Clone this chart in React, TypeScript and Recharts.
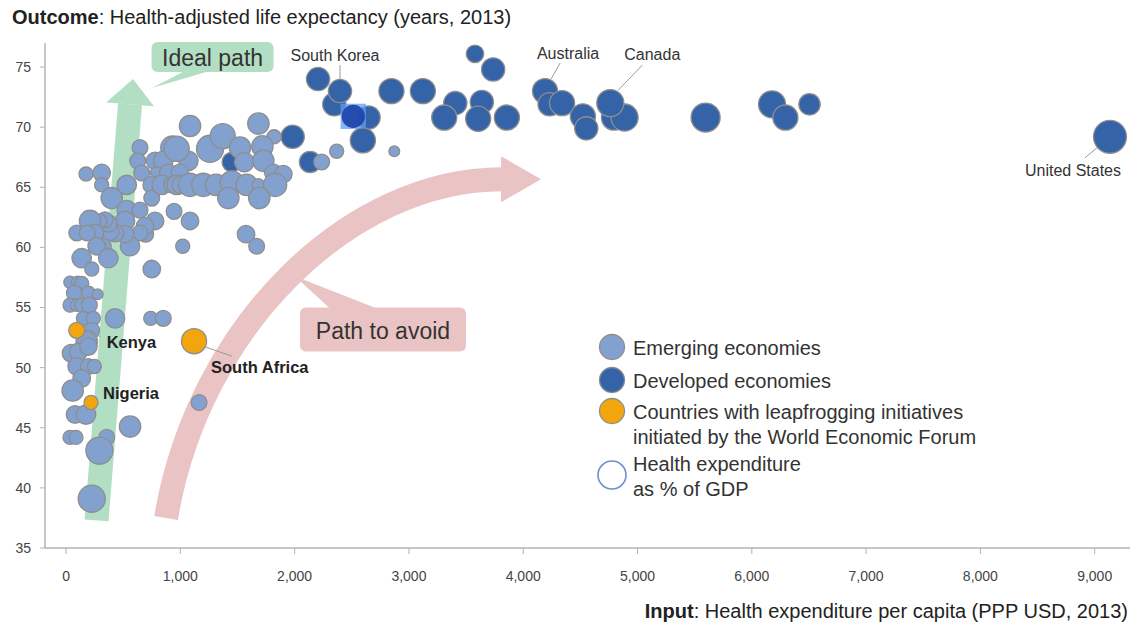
import React from 'react';
import { ScatterChart, Scatter, XAxis, YAxis, ZAxis } from 'recharts';

type Pt = { x: number; y: number; z: number; name?: string; selected?: boolean };

const W = 1134;
const H = 624;
const FONT = '"Liberation Sans", Arial, Helvetica, sans-serif';

const EMERGING = '#82a1cf';
const DEVELOPED = '#3563a8';
const LEAP = '#f2a50c';
const EDGE = '#8e8e8e';
const GREEN = '#b2dfc4';
const PINK = '#eac4c4';

// x: health expenditure per capita (PPP USD), y: healthy life expectancy, z: health expenditure % of GDP
const xTicks = [0, 1000, 2000, 3000, 4000, 5000, 6000, 7000, 8000, 9000];
const yTicks = [35, 40, 45, 50, 55, 60, 65, 70, 75];

const emerging: Pt[] = [
  { x: 1085, y: 70.1, z: 6.3 }, { x: 1683, y: 70.3, z: 6.3 }, { x: 1820, y: 69.2, z: 2.3 },
  { x: 647, y: 68.3, z: 3.1 }, { x: 627, y: 67.2, z: 3.1 }, { x: 930, y: 68.3, z: 7.6 },
  { x: 779, y: 67.2, z: 4.0 }, { x: 851, y: 67.2, z: 5.1 }, { x: 1070, y: 67.2, z: 5.1 },
  { x: 968, y: 68.2, z: 9.0 }, { x: 1260, y: 68.2, z: 10.6 }, { x: 1371, y: 69.25, z: 9.0 },
  { x: 1522, y: 68.3, z: 6.3 }, { x: 1560, y: 67.1, z: 5.1 }, { x: 1718, y: 68.4, z: 6.3 },
  { x: 1726, y: 67.2, z: 6.3 }, { x: 1814, y: 66.2, z: 4.0 }, { x: 1901, y: 66.1, z: 4.0 },
  { x: 175, y: 66.1, z: 2.3 }, { x: 312, y: 66.2, z: 4.0 }, { x: 312, y: 65.2, z: 2.3 },
  { x: 400, y: 64.1, z: 6.3 }, { x: 531, y: 65.2, z: 5.1 }, { x: 662, y: 66.2, z: 3.1 },
  { x: 793, y: 66.2, z: 1.6 }, { x: 750, y: 65.2, z: 4.0 }, { x: 750, y: 64.1, z: 3.1 },
  { x: 895, y: 66.2, z: 4.0 }, { x: 997, y: 66.2, z: 4.0 }, { x: 939, y: 65.2, z: 2.3 },
  { x: 837, y: 65.2, z: 5.1 }, { x: 924, y: 65.2, z: 3.1 }, { x: 968, y: 65.2, z: 5.1 },
  { x: 1005, y: 65.2, z: 4.0 }, { x: 1085, y: 65.2, z: 7.6 }, { x: 1201, y: 65.2, z: 7.6 },
  { x: 1312, y: 65.2, z: 6.3 }, { x: 1450, y: 65.4, z: 7.6 }, { x: 1580, y: 65.2, z: 6.3 },
  { x: 1683, y: 65.2, z: 1.6 }, { x: 1829, y: 65.2, z: 7.6 }, { x: 1420, y: 64.1, z: 6.3 },
  { x: 1691, y: 64.1, z: 6.3 }, { x: 945, y: 63.0, z: 3.1 }, { x: 1085, y: 62.2, z: 4.0 },
  { x: 1575, y: 61.1, z: 4.0 }, { x: 1668, y: 60.1, z: 3.1 }, { x: 1021, y: 60.1, z: 2.3 },
  { x: 750, y: 58.2, z: 4.0 }, { x: 531, y: 63.1, z: 5.1 }, { x: 647, y: 63.1, z: 3.1 },
  { x: 779, y: 62.2, z: 4.0 }, { x: 697, y: 61.1, z: 3.1 }, { x: 691, y: 61.75, z: 4.0 },
  { x: 647, y: 61.2, z: 3.1 }, { x: 560, y: 60.1, z: 5.1 }, { x: 516, y: 62.2, z: 5.1 },
  { x: 516, y: 61.1, z: 4.0 }, { x: 429, y: 61.2, z: 4.0 }, { x: 385, y: 61.3, z: 4.0 },
  { x: 370, y: 62.0, z: 4.0 }, { x: 341, y: 62.3, z: 3.1 }, { x: 297, y: 62.2, z: 2.3 },
  { x: 210, y: 62.2, z: 6.3 }, { x: 254, y: 61.2, z: 4.0 }, { x: 94, y: 61.2, z: 3.1 },
  { x: 186, y: 61.2, z: 3.1 }, { x: 326, y: 60.1, z: 3.1 }, { x: 268, y: 60.1, z: 4.0 },
  { x: 370, y: 59.1, z: 5.1 }, { x: 137, y: 59.1, z: 5.1 }, { x: 225, y: 58.2, z: 2.3 },
  { x: 2237, y: 67.1, z: 3.1 }, { x: 2368, y: 68.0, z: 2.3 }, { x: 2872, y: 68.0, z: 1.0 },
  { x: 35, y: 57.1, z: 1.6 }, { x: 102, y: 57.1, z: 1.6 }, { x: 137, y: 57.0, z: 2.3 },
  { x: 73, y: 56.2, z: 3.1 }, { x: 195, y: 56.2, z: 2.3 }, { x: 277, y: 56.1, z: 1.0 },
  { x: 35, y: 55.2, z: 2.3 }, { x: 93, y: 55.2, z: 1.6 }, { x: 137, y: 55.2, z: 2.3 },
  { x: 204, y: 55.2, z: 3.1 }, { x: 152, y: 54.1, z: 2.3 }, { x: 239, y: 54.1, z: 2.3 },
  { x: 429, y: 54.1, z: 5.1 }, { x: 741, y: 54.1, z: 2.3 }, { x: 851, y: 54.1, z: 3.1 },
  { x: 225, y: 53.1, z: 3.1 }, { x: 181, y: 52.2, z: 6.3 }, { x: 44, y: 51.2, z: 4.0 },
  { x: 108, y: 51.3, z: 4.0 }, { x: 195, y: 51.75, z: 4.0 }, { x: 93, y: 50.1, z: 4.0 },
  { x: 195, y: 50.1, z: 3.1 }, { x: 248, y: 50.1, z: 2.3 }, { x: 137, y: 49.1, z: 4.0 },
  { x: 58, y: 48.1, z: 6.3 }, { x: 79, y: 46.1, z: 4.0 }, { x: 175, y: 46.1, z: 5.1 },
  { x: 35, y: 44.2, z: 2.3 }, { x: 87, y: 44.2, z: 2.3 }, { x: 356, y: 44.2, z: 3.1 },
  { x: 292, y: 43.1, z: 10.6 }, { x: 560, y: 45.1, z: 6.3 }, { x: 1164, y: 47.1, z: 3.1 },
  { x: 225, y: 39.1, z: 10.6 },
];

const developed: Pt[] = [
  { x: 1450, y: 67.1, z: 5.1 }, { x: 1983, y: 69.2, z: 7.6 }, { x: 2135, y: 67.1, z: 6.3 },
  { x: 2205, y: 74.0, z: 7.6 }, { x: 2347, y: 71.9, z: 7.6 },
  { x: 2397, y: 73.0, z: 7.6, name: 'South Korea' },
  { x: 2647, y: 70.8, z: 7.6 }, { x: 2513, y: 70.9, z: 7.6, selected: true },
  { x: 2597, y: 68.9, z: 9.0 }, { x: 2847, y: 73.0, z: 9.0 }, { x: 3122, y: 73.0, z: 9.0 },
  { x: 3406, y: 72.0, z: 7.6 }, { x: 3309, y: 70.8, z: 9.0 }, { x: 3638, y: 72.1, z: 7.6 },
  { x: 3606, y: 70.7, z: 9.0 }, { x: 3857, y: 70.8, z: 9.0 }, { x: 3737, y: 74.8, z: 7.6 },
  { x: 3578, y: 76.1, z: 4.0 },
  { x: 4191, y: 73.0, z: 9.0, name: 'Australia' },
  { x: 4231, y: 71.9, z: 7.6 }, { x: 4340, y: 72.0, z: 9.0 }, { x: 4522, y: 70.9, z: 9.0 },
  { x: 4552, y: 69.9, z: 7.6 },
  { x: 4794, y: 70.8, z: 9.0 }, { x: 4887, y: 70.8, z: 10.6 },
  { x: 4762, y: 72.0, z: 10.6, name: 'Canada' },
  { x: 5596, y: 70.8, z: 12.3 }, { x: 6177, y: 71.9, z: 10.6 }, { x: 6294, y: 70.8, z: 9.0 },
  { x: 6505, y: 71.9, z: 6.3 },
  { x: 9134, y: 69.2, z: 16.1, name: 'United States' },
];

const leapfrog: Pt[] = [
  { x: 93, y: 53.1, z: 3.1, name: 'Kenya' },
  { x: 219, y: 47.1, z: 2.3, name: 'Nigeria' },
  { x: 1120, y: 52.2, z: 9.0, name: 'South Africa' },
];

// Annotation geometry, in axis units
const idealPath = [{ x: 267, y: 37.3 }, { x: 560, y: 71.9 }, { x: 586, y: 74.0 }];
const avoidPath = [
  { x: 875, y: 37.5 }, { x: 1160, y: 53.5 }, { x: 2480, y: 65.67 },
  { x: 3815, y: 65.67 }, { x: 4156, y: 65.67 },
];
const idealCallout = [{ x: 1282, y: 75.83 }, { x: 752, y: 73.25 }];
const avoidCallout = [{ x: 2773, y: 53.17 }, { x: 2003, y: 57.6 }];

// Country label placement (pixel offsets from the bubble centre)
const labelLayout: Record<string, { dx: number; dy: number; anchor: 'start' | 'middle'; bold: boolean; lead?: number[] }> = {
  'South Korea': { dx: -5, dy: -36, anchor: 'middle', bold: false, lead: [0, -12, 0, -26] },
  Australia: { dx: 23, dy: -38, anchor: 'middle', bold: false, lead: [6, -12, 15, -28] },
  Canada: { dx: 42, dy: -49, anchor: 'middle', bold: false, lead: [8, -13, 32, -38] },
  'United States': { dx: -37, dy: 34, anchor: 'middle', bold: false, lead: [-13, 11, -25, 21] },
  Kenya: { dx: 30, dy: 12, anchor: 'start', bold: true, lead: [7, 2, 24, 6] },
  Nigeria: { dx: 12, dy: -10, anchor: 'start', bold: true },
  'South Africa': { dx: 17, dy: 26, anchor: 'start', bold: true, lead: [12, 6, 38, 15] },
};

const labeled = [...developed, ...leapfrog].filter((d) => d.name);

const legendItems = [
  { lines: ['Emerging economies'], fill: EMERGING, cy: 347 },
  { lines: ['Developed economies'], fill: DEVELOPED, cy: 380 },
  { lines: ['Countries with leapfrogging initiatives', 'initiated by the World Economic Forum'], fill: LEAP, cy: 411 },
  { lines: ['Health expenditure', 'as % of GDP'], fill: 'none', cy: 463, ring: true },
];

const fmt = (v: number) => v.toLocaleString('en-US');

const Nothing = () => <g />;

const radiusOf = (p: any) =>
  p.size != null ? Math.sqrt(Math.max(p.size, 0) / Math.PI) : (p.width ?? 12) / 2;

const bubble = (fill: string) => (p: any) => {
  const r = radiusOf(p);
  if (p.payload && p.payload.selected) {
    return (
      <g>
        <rect x={p.cx - r - 1} y={p.cy - r - 1} width={2 * r + 2} height={2 * r + 2} fill="#5e9cf8" fillOpacity={0.75} />
        <circle cx={p.cx} cy={p.cy} r={r} fill="#1c44a8" fillOpacity={0.92} />
      </g>
    );
  }
  return <circle cx={p.cx} cy={p.cy} r={r} fill={fill} stroke={EDGE} strokeWidth={1.3} />;
};

const IdealArrow = (props: any) => {
  const pts = props.points || [];
  if (pts.length < 3) return <g />;
  const [a, b, tip] = pts;
  const dx = b.x - a.x;
  const dy = b.y - a.y;
  const len = Math.hypot(dx, dy) || 1;
  const nx = -dy / len;
  const ny = dx / len;
  const w = 12;
  const hw = 24;
  const shaft = [
    [a.x + nx * w, a.y + ny * w], [b.x + nx * w, b.y + ny * w],
    [b.x - nx * w, b.y - ny * w], [a.x - nx * w, a.y - ny * w],
  ].map((q) => q.join(',')).join(' ');
  const head = [
    [b.x + nx * hw, b.y + ny * hw], [tip.x, tip.y], [b.x - nx * hw, b.y - ny * hw],
  ].map((q) => q.join(',')).join(' ');
  return (
    <g>
      <polygon points={shaft} fill={GREEN} />
      <polygon points={head} fill={GREEN} />
    </g>
  );
};

const AvoidArrow = (props: any) => {
  const pts = props.points || [];
  if (pts.length < 5) return <g />;
  const [p0, c1, c2, p3, tip] = pts;
  const d = `M${p0.x},${p0.y} C${c1.x},${c1.y} ${c2.x},${c2.y} ${p3.x},${p3.y}`;
  const dx = tip.x - p3.x;
  const dy = tip.y - p3.y;
  const len = Math.hypot(dx, dy) || 1;
  const nx = -dy / len;
  const ny = dx / len;
  const hw = 23;
  const bx = p3.x - (dx / len) * 1;
  const by = p3.y - (dy / len) * 1;
  const head = [
    [bx + nx * hw, by + ny * hw], [tip.x, tip.y], [bx - nx * hw, by - ny * hw],
  ].map((q) => q.join(',')).join(' ');
  return (
    <g>
      <path d={d} fill="none" stroke={PINK} strokeWidth={24} />
      <polygon points={head} fill={PINK} />
    </g>
  );
};

const makeCallout = (text: string, w: number, h: number, base: [number, number], side: 'top' | 'bottom', fill: string) =>
  (props: any) => {
    const pts = props.points || [];
    if (pts.length < 2) return <g />;
    const [c, tip] = pts;
    const x0 = c.x - w / 2;
    const y0 = c.y - h / 2;
    const by = side === 'bottom' ? y0 + h - 1 : y0 + 1;
    return (
      <g>
        <polygon points={`${c.x + base[0]},${by} ${c.x + base[1]},${by} ${tip.x},${tip.y}`} fill={fill} />
        <rect x={x0} y={y0} width={w} height={h} rx={6} ry={6} fill={fill} />
        <text x={c.x} y={c.y + 1} textAnchor="middle" dominantBaseline="central" fontSize={23} fill="#333" fontFamily={FONT}>
          {text}
        </text>
      </g>
    );
  };

const IdealCallout = makeCallout('Ideal path', 122, 30, [-28, -3], 'bottom', GREEN);
const AvoidCallout = makeCallout('Path to avoid', 166, 44, [-53, -6], 'top', PINK);

const CountryLabel = (p: any) => {
  const name = p.payload && p.payload.name;
  const cfg = name ? labelLayout[name] : undefined;
  if (!cfg) return <g />;
  return (
    <g>
      {cfg.lead && (
        <line
          x1={p.cx + cfg.lead[0]} y1={p.cy + cfg.lead[1]}
          x2={p.cx + cfg.lead[2]} y2={p.cy + cfg.lead[3]}
          stroke="#9a9a9a" strokeWidth={1}
        />
      )}
      <text
        x={p.cx + cfg.dx} y={p.cy + cfg.dy}
        textAnchor={cfg.anchor} dominantBaseline="central"
        fontSize={cfg.bold ? 16.5 : 16} fontWeight={cfg.bold ? 'bold' : 'normal'}
        fill={cfg.bold ? '#222' : '#333'} fontFamily={FONT}
      >
        {name}
      </text>
    </g>
  );
};

const Overlay = () => (
  <svg width={W} height={H} style={{ position: 'absolute', left: 0, top: 0, pointerEvents: 'none' }} fontFamily={FONT}>
    <text x={12} y={17} dominantBaseline="central" fontSize={20} fill="#222">
      <tspan fontWeight="bold">Outcome</tspan>: Health-adjusted life expectancy (years, 2013)
    </text>
    <text x={1128} y={611} textAnchor="end" dominantBaseline="central" fontSize={20} fill="#222">
      <tspan fontWeight="bold">Input</tspan>: Health expenditure per capita (PPP USD, 2013)
    </text>
    {legendItems.map((it) => (
      <g key={it.lines[0]}>
        <circle
          cx={612}
          cy={it.ring ? it.cy + 12 : it.cy}
          r={it.ring ? 14 : 12.5}
          fill={it.fill}
          stroke={it.ring ? '#6f8fcf' : EDGE}
          strokeWidth={it.ring ? 1.6 : 1.3}
        />
        {it.lines.map((ln, i) => (
          <text key={ln} x={633} y={it.cy + 1 + i * 25} dominantBaseline="central" fontSize={20} fill="#333">
            {ln}
          </text>
        ))}
      </g>
    ))}
  </svg>
);

export default function App() {
  const axisStroke = { stroke: '#b3b3b3', strokeWidth: 1.5 };
  const tickStyle = { fontSize: 14, fill: '#444', fontFamily: FONT };
  return (
    <div style={{ position: 'absolute', left: 0, top: 0, width: W, height: H, background: '#fff' }}>
      <ScatterChart width={W} height={H} margin={{ top: 43, right: 4, bottom: 36, left: 0 }}>
        <XAxis
          type="number" dataKey="x" domain={[-184, 9309]} ticks={xTicks} tickFormatter={fmt}
          axisLine={axisStroke} tickLine={{ stroke: '#b3b3b3' }} tickSize={6} tickMargin={17}
          height={40} tick={tickStyle}
        />
        <YAxis
          type="number" dataKey="y" domain={[35, 77]} ticks={yTicks}
          axisLine={axisStroke} tickLine={{ stroke: '#b3b3b3' }} tickSize={5} tickMargin={9}
          width={45} tick={tickStyle}
        />
        <ZAxis type="number" dataKey="z" domain={[0, 18]} range={[40, 950]} />
        <Scatter data={idealPath} line={IdealArrow} shape={Nothing} isAnimationActive={false} />
        <Scatter data={avoidPath} line={AvoidArrow} shape={Nothing} isAnimationActive={false} />
        <Scatter data={idealCallout} line={IdealCallout} shape={Nothing} isAnimationActive={false} />
        <Scatter data={avoidCallout} line={AvoidCallout} shape={Nothing} isAnimationActive={false} />
        <Scatter name="Developed economies" data={developed} shape={bubble(DEVELOPED)} isAnimationActive={false} />
        <Scatter name="Emerging economies" data={emerging} shape={bubble(EMERGING)} isAnimationActive={false} />
        <Scatter name="Leapfrogging" data={leapfrog} shape={bubble(LEAP)} isAnimationActive={false} />
        <Scatter data={labeled} shape={CountryLabel} isAnimationActive={false} />
      </ScatterChart>
      <Overlay />
    </div>
  );
}
